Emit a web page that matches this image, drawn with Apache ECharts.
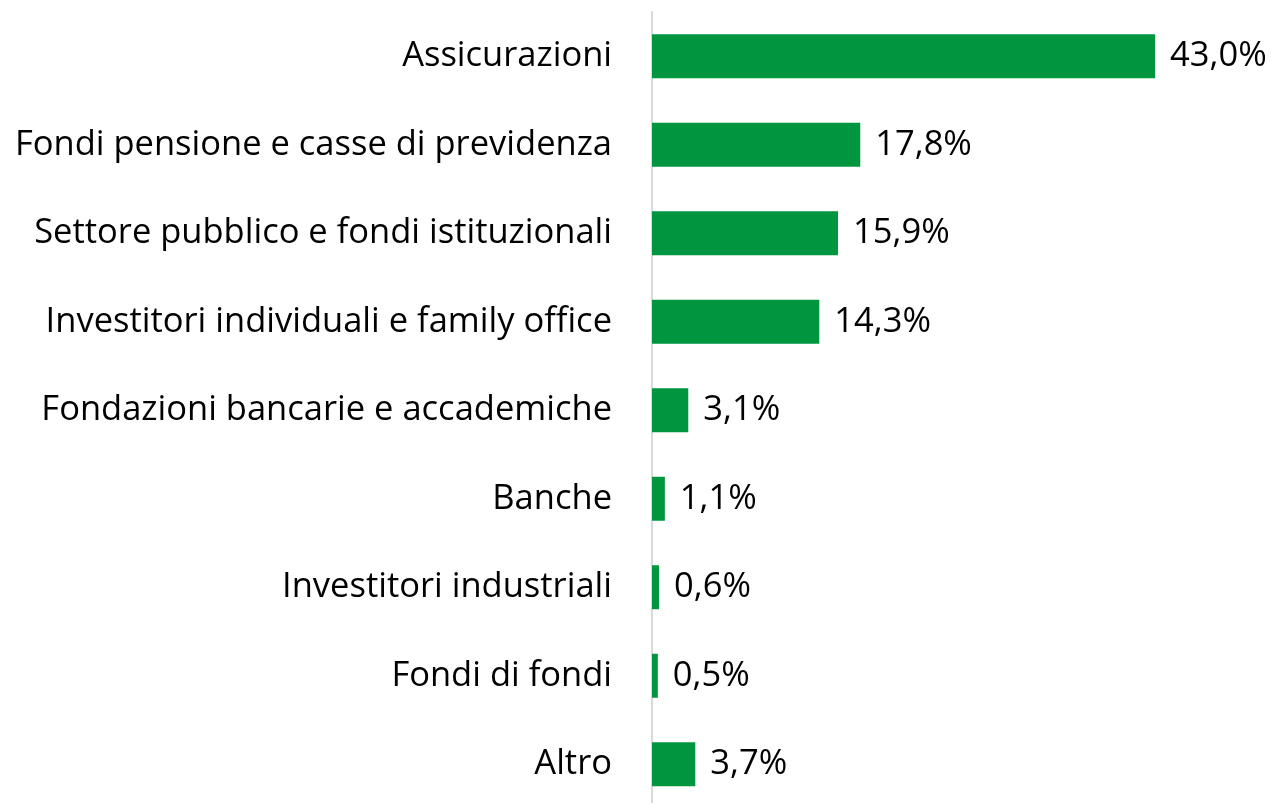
<!DOCTYPE html>
<html>
<head>
<meta charset="utf-8">
<script src="https://cdn.jsdelivr.net/npm/echarts@6/dist/echarts.min.js"></script>
<style>
  html, body { margin: 0; padding: 0; background: #fff; overflow: hidden; }
  #chart { width: 1276px; height: 812px; }
</style>
</head>
<body>
<div id="chart"></div>
<script>
// categorie dall'alto verso il basso
var categorie = [
    'Assicurazioni',
    'Fondi pensione e casse di previdenza',
    'Settore pubblico e fondi istituzionali',
    'Investitori individuali e family office',
    'Fondazioni bancarie e accademiche',
    'Banche',
    'Investitori industriali',
    'Fondi di fondi',
    'Altro'
];
var quote = [43.0, 17.8, 15.9, 14.3, 3.1, 1.1, 0.6, 0.5, 3.7];

var grafico = echarts.init(document.getElementById('chart'));
grafico.setOption({
    animation: false,
    textStyle: { fontFamily: 'Open Sans' },
    grid: { left: 652, top: 12, width: 585, height: 796.5 },
    xAxis: {
        type: 'value',
        min: 0,
        max: 50,
        show: false
    },
    yAxis: {
        type: 'category',
        inverse: true,
        data: categorie,
        axisLine: { show: true, lineStyle: { color: '#d9d9d9', width: 2 } },
        axisTick: { show: false },
        axisLabel: { color: '#000', fontSize: 34.5, margin: 40, fontFamily: 'Open Sans' }
    },
    series: [
        {
            type: 'bar',
            data: quote,
            barWidth: 44,
            itemStyle: { color: '#009640' },
            label: {
                show: true,
                position: 'right',
                distance: 15,
                color: '#000',
                fontSize: 34.5,
                fontFamily: 'Open Sans',
                formatter: function (p) {
                    return p.value.toFixed(1).replace('.', ',') + '%';
                }
            }
        }
    ]
});
</script>
</body>
</html>
